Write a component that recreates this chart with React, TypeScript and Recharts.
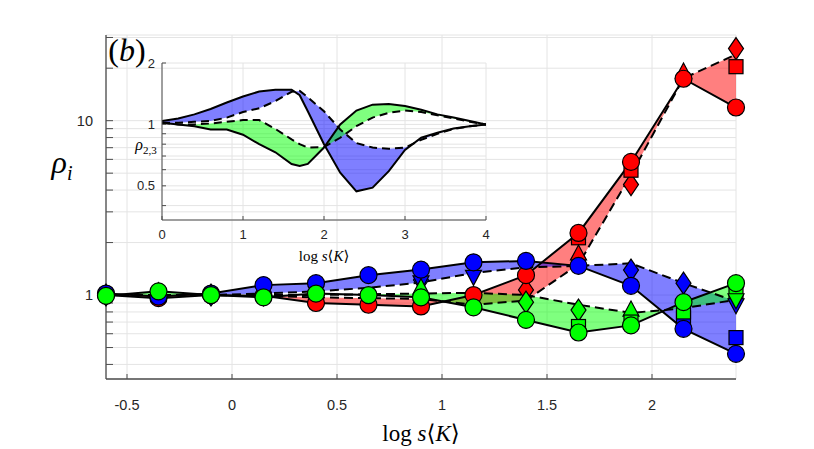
import React from "react";
import { ComposedChart, Area, Line, Scatter, XAxis, YAxis, CartesianGrid } from "recharts";

// ---------- main chart data ----------
const logSK = [-0.6, -0.35, -0.1, 0.15, 0.4, 0.65, 0.9, 1.15, 1.4, 1.65, 1.9, 2.15, 2.4];
const redSolid = [1.0, 0.96, 1.0, 0.99, 0.9, 0.88, 0.86, 1.0, 1.3, 2.27, 5.8, 17.4, 11.9];
const redDashed = [1.0, 1.0, 1.0, 0.99, 0.97, 0.96, 0.95, 0.88, 0.93, 1.5, 4.9, 17.5, 24];
const blueSolid = [1.02, 0.98, 1.02, 1.14, 1.17, 1.3, 1.4, 1.54, 1.57, 1.47, 1.13, 0.64, 0.46];
const blueDashed = [1.0, 1.0, 1.0, 1.02, 1.05, 1.1, 1.18, 1.34, 1.44, 1.47, 1.52, 1.17, 0.92];
const greenSolid = [0.99, 1.05, 1.0, 0.97, 1.02, 1.0, 0.97, 0.85, 0.72, 0.61, 0.67, 0.91, 1.17];
const greenDashed = [1.0, 1.0, 1.0, 1.0, 1.0, 1.01, 1.02, 1.03, 1.0, 0.88, 0.79, 0.84, 0.94];

const redDiamonds = [[1.4, 1.07], [1.65, 1.6], [1.9, 4.3], [2.4, 25.9]];
const redSquares = [[1.65, 2.13], [1.9, 5.2], [2.4, 20.4]];
const redTriangles = [[1.65, 1.72], [2.15, 19]];
const blueDiamonds = [[-0.6, 1.0], [-0.35, 1.02], [-0.1, 1.0], [0.15, 1.0], [0.9, 1.22], [1.9, 1.39], [2.15, 1.17]];
const blueTrianglesDown = [[0.9, 1.19], [1.15, 1.28], [2.4, 0.88]];
const blueSquares = [[2.15, 0.74], [2.4, 0.57]];
const greenDiamonds = [[1.4, 0.91], [1.65, 0.82]];
const greenTriangles = [[0.9, 1.1], [1.9, 0.82]];
const greenSquares = [[1.65, 0.66], [1.9, 0.7], [2.15, 0.8], [2.4, 1.05]];
const greenTrianglesDown = [[2.4, 0.94]];

const xTicks = [-0.5, 0, 0.5, 1, 1.5, 2];
const yTicks = [0.4, 0.5, 0.6, 0.7, 0.8, 0.9, 1, 2, 3, 4, 5, 6, 7, 8, 9, 10, 20, 30];
const yTickLabels = [1, 10];

// ---------- inset data ----------
const insetX = [0, 0.2, 0.4, 0.6, 0.8, 1.0, 1.2, 1.4, 1.6, 1.7, 1.8, 2.0, 2.2, 2.4, 2.6, 2.8, 3.0, 3.2, 3.4, 3.6, 3.8, 4.0];
const insetBlueSolid = [1.04, 1.07, 1.12, 1.19, 1.28, 1.37, 1.45, 1.48, 1.48, 1.39, 1.16, 0.8, 0.58, 0.47, 0.49, 0.59, 0.75, 0.86, 0.91, 0.955, 0.98, 1.0];
const insetBlueDashed = [1.02, 1.02, 1.03, 1.04, 1.08, 1.15, 1.2, 1.3, 1.445, 1.46, 1.36, 1.16, 0.945, 0.81, 0.77, 0.76, 0.77, 0.84, 0.9, 0.95, 0.98, 1.0];
const insetGreenSolid = [1.02, 1.0, 0.98, 0.945, 0.945, 0.89, 0.8, 0.73, 0.64, 0.625, 0.64, 0.77, 1.0, 1.17, 1.25, 1.26, 1.23, 1.18, 1.12, 1.08, 1.04, 1.0];
const insetGreenDashed = [1.02, 1.0, 1.0, 1.01, 1.03, 1.05, 1.05, 0.95, 0.845, 0.8, 0.77, 0.774, 0.86, 0.98, 1.08, 1.14, 1.17, 1.15, 1.11, 1.07, 1.03, 1.0];
const insetXTicks = [0, 1, 2, 3, 4];
const insetYTicks = [0.4, 0.5, 0.6, 0.7, 0.8, 0.9, 1, 2];
const insetYTickLabels = [0.5, 1, 2];

const RED = "#ff0000";
const BLUE = "#0000ff";
const GREEN = "#00ff00";
const serif = "'Liberation Serif','DejaVu Serif',serif";
const sans = "'Liberation Sans',Arial,sans-serif";

const mainRows = logSK.map((x, i) => ({
  x,
  redSolid: redSolid[i],
  redDashed: redDashed[i],
  blueSolid: blueSolid[i],
  blueDashed: blueDashed[i],
  greenSolid: greenSolid[i],
  greenDashed: greenDashed[i],
}));

const insetRows = insetX.map((x, i) => ({
  x,
  bs: insetBlueSolid[i],
  bd: insetBlueDashed[i],
  gs: insetGreenSolid[i],
  gd: insetGreenDashed[i],
}));

const pts = (arr: number[][]) => arr.map(([x, y]) => ({ x, y }));
const circlePts = (vals: number[]) => logSK.map((x, i) => ({ x, y: vals[i] }));

const marker = (kind: string, fill: string) => (props: any) => {
  const { cx, cy } = props;
  if (cx == null || cy == null || isNaN(cx) || isNaN(cy)) return <g />;
  const common = { fill, stroke: "#000", strokeWidth: 1.2 };
  if (kind === "circle") return <circle cx={cx} cy={cy} r={8.5} {...common} />;
  if (kind === "diamond")
    return <path d={`M${cx},${cy - 11} L${cx + 7.5},${cy} L${cx},${cy + 11} L${cx - 7.5},${cy} Z`} {...common} />;
  if (kind === "square") return <rect x={cx - 7} y={cy - 7} width={14} height={14} {...common} />;
  if (kind === "triUp")
    return <path d={`M${cx},${cy - 9} L${cx + 8},${cy + 6} L${cx - 8},${cy + 6} Z`} {...common} />;
  return <path d={`M${cx},${cy + 9} L${cx + 8},${cy - 6} L${cx - 8},${cy - 6} Z`} {...common} />;
};

const Text = ({ left, top, size, children, style }: any) => (
  <div
    style={{
      position: "absolute",
      left,
      top,
      fontSize: size,
      fontFamily: serif,
      color: "#000",
      whiteSpace: "nowrap",
      lineHeight: 1,
      transform: "translate(-50%,-50%)",
      ...style,
    }}
  >
    {children}
  </div>
);

export default function App() {
  return (
    <div style={{ position: "absolute", left: 0, top: 0, width: 814, height: 449, background: "#fff" }}>
      <div style={{ position: "absolute", left: 0, top: 0 }}>
        <ComposedChart width={814} height={449} data={mainRows} margin={{ top: 35, right: 78, left: 0, bottom: 40 }}>
          <CartesianGrid stroke="#e4e4e4" strokeWidth={1} />
          <XAxis
            type="number"
            dataKey="x"
            domain={[-0.6, 2.4]}
            ticks={xTicks}
            interval={0}
            height={30}
            tickSize={-5}
            tickMargin={26}
            axisLine={{ stroke: "#4d4d4d", strokeWidth: 1.3 }}
            tickLine={{ stroke: "#4d4d4d" }}
            tick={{ fill: "#262626", fontSize: 14.5, fontFamily: sans }}
          />
          <YAxis
            scale="log"
            domain={[0.33, 31]}
            ticks={yTicks}
            interval={0}
            width={106}
            tickSize={-7}
            tickMargin={20}
            tickFormatter={(v: number) => (yTickLabels.includes(v) ? String(v) : "")}
            axisLine={{ stroke: "#4d4d4d", strokeWidth: 1.3 }}
            tickLine={{ stroke: "#4d4d4d" }}
            tick={{ fill: "#262626", fontSize: 14.5, fontFamily: sans }}
          />
          <Area type="linear" dataKey={(d: any) => [d.redDashed, d.redSolid]} stroke="none" fill={RED} fillOpacity={0.5} isAnimationActive={false} />
          <Area type="linear" dataKey={(d: any) => [d.blueDashed, d.blueSolid]} stroke="none" fill={BLUE} fillOpacity={0.5} isAnimationActive={false} />
          <Area type="linear" dataKey={(d: any) => [d.greenDashed, d.greenSolid]} stroke="none" fill={GREEN} fillOpacity={0.5} isAnimationActive={false} />
          <Line type="linear" dataKey="redDashed" stroke="#000" strokeWidth={2} strokeDasharray="9 5" dot={false} isAnimationActive={false} />
          <Line type="linear" dataKey="blueDashed" stroke="#000" strokeWidth={2} strokeDasharray="9 5" dot={false} isAnimationActive={false} />
          <Line type="linear" dataKey="greenDashed" stroke="#000" strokeWidth={2} strokeDasharray="9 5" dot={false} isAnimationActive={false} />
          <Line type="linear" dataKey="redSolid" stroke="#000" strokeWidth={2} dot={false} isAnimationActive={false} />
          <Line type="linear" dataKey="blueSolid" stroke="#000" strokeWidth={2} dot={false} isAnimationActive={false} />
          <Line type="linear" dataKey="greenSolid" stroke="#000" strokeWidth={2} dot={false} isAnimationActive={false} />
          <Scatter data={pts(redDiamonds)} dataKey="y" shape={marker("diamond", RED)} isAnimationActive={false} />
          <Scatter data={pts(redSquares)} dataKey="y" shape={marker("square", RED)} isAnimationActive={false} />
          <Scatter data={pts(redTriangles)} dataKey="y" shape={marker("triUp", RED)} isAnimationActive={false} />
          <Scatter data={pts(blueDiamonds)} dataKey="y" shape={marker("diamond", BLUE)} isAnimationActive={false} />
          <Scatter data={pts(blueTrianglesDown)} dataKey="y" shape={marker("triDown", BLUE)} isAnimationActive={false} />
          <Scatter data={pts(blueSquares)} dataKey="y" shape={marker("square", BLUE)} isAnimationActive={false} />
          <Scatter data={pts(greenDiamonds)} dataKey="y" shape={marker("diamond", GREEN)} isAnimationActive={false} />
          <Scatter data={pts(greenTriangles)} dataKey="y" shape={marker("triUp", GREEN)} isAnimationActive={false} />
          <Scatter data={pts(greenSquares)} dataKey="y" shape={marker("square", GREEN)} isAnimationActive={false} />
          <Scatter data={pts(greenTrianglesDown)} dataKey="y" shape={marker("triDown", GREEN)} isAnimationActive={false} />
          <Scatter data={circlePts(redSolid)} dataKey="y" shape={marker("circle", RED)} isAnimationActive={false} />
          <Scatter data={circlePts(blueSolid)} dataKey="y" shape={marker("circle", BLUE)} isAnimationActive={false} />
          <Scatter data={circlePts(greenSolid)} dataKey="y" shape={marker("circle", GREEN)} isAnimationActive={false} />
        </ComposedChart>
      </div>

      {/* inset */}
      <div style={{ position: "absolute", left: 120, top: 53 }}>
        <ComposedChart width={386} height={197} data={insetRows} margin={{ top: 10, right: 20, left: 0, bottom: 0 }}>
          <CartesianGrid stroke="#e4e4e4" strokeWidth={1} />
          <XAxis
            type="number"
            dataKey="x"
            domain={[0, 4]}
            allowDataOverflow
            ticks={insetXTicks}
            interval={0}
            height={30}
            tickSize={-4}
            tickMargin={14}
            axisLine={{ stroke: "#4d4d4d", strokeWidth: 1 }}
            tickLine={{ stroke: "#4d4d4d" }}
            tick={{ fill: "#262626", fontSize: 13, fontFamily: sans }}
          />
          <XAxis
            xAxisId="top"
            orientation="top"
            type="number"
            dataKey="x"
            domain={[0, 4]}
            allowDataOverflow
            ticks={insetXTicks}
            interval={0}
            height={0}
            tickSize={-4}
            tickFormatter={() => ""}
            axisLine={{ stroke: "#4d4d4d", strokeWidth: 1 }}
            tickLine={{ stroke: "#4d4d4d" }}
          />
          <YAxis
            scale="log"
            domain={[0.34, 2]}
            allowDataOverflow
            ticks={insetYTicks}
            interval={0}
            width={42}
            tickSize={-4}
            tickMargin={11}
            tickFormatter={(v: number) => (insetYTickLabels.includes(v) ? String(v) : "")}
            axisLine={{ stroke: "#4d4d4d", strokeWidth: 1 }}
            tickLine={{ stroke: "#4d4d4d" }}
            tick={{ fill: "#262626", fontSize: 13, fontFamily: sans }}
          />
          <YAxis
            yAxisId="right"
            orientation="right"
            scale="log"
            domain={[0.34, 2]}
            allowDataOverflow
            ticks={insetYTicks}
            interval={0}
            width={0}
            tickSize={-4}
            tickFormatter={() => ""}
            axisLine={{ stroke: "#4d4d4d", strokeWidth: 1 }}
            tickLine={{ stroke: "#4d4d4d" }}
          />
          <Area type="linear" dataKey={(d: any) => [d.bd, d.bs]} stroke="none" fill={BLUE} fillOpacity={0.5} isAnimationActive={false} />
          <Area type="linear" dataKey={(d: any) => [d.gd, d.gs]} stroke="none" fill={GREEN} fillOpacity={0.5} isAnimationActive={false} />
          <Line type="linear" dataKey="bd" stroke="#000" strokeWidth={2} strokeDasharray="8 5" dot={false} isAnimationActive={false} />
          <Line type="linear" dataKey="gd" stroke="#000" strokeWidth={2} strokeDasharray="8 5" dot={false} isAnimationActive={false} />
          <Line type="linear" dataKey="bs" stroke="#000" strokeWidth={2} dot={false} isAnimationActive={false} />
          <Line type="linear" dataKey="gs" stroke="#000" strokeWidth={2} dot={false} isAnimationActive={false} />
        </ComposedChart>
      </div>

      <Text left={127} top={50} size={32}>
        (<i>b</i>)
      </Text>
      <Text left={62} top={162} size={32}>
        <i>ρ</i>
        <i style={{ fontSize: 20, position: "relative", top: 7 }}>i</i>
      </Text>
      <Text left={421} top={433} size={23}>
        log <i>s</i>⟨<i>K</i>⟩
      </Text>
      <Text left={324} top={256} size={15}>
        log <i>s</i>⟨<i>K</i>⟩
      </Text>
      <Text left={146} top={145} size={16}>
        <i>ρ</i>
        <span style={{ fontSize: 11, position: "relative", top: 4 }}>2,3</span>
      </Text>
    </div>
  );
}
